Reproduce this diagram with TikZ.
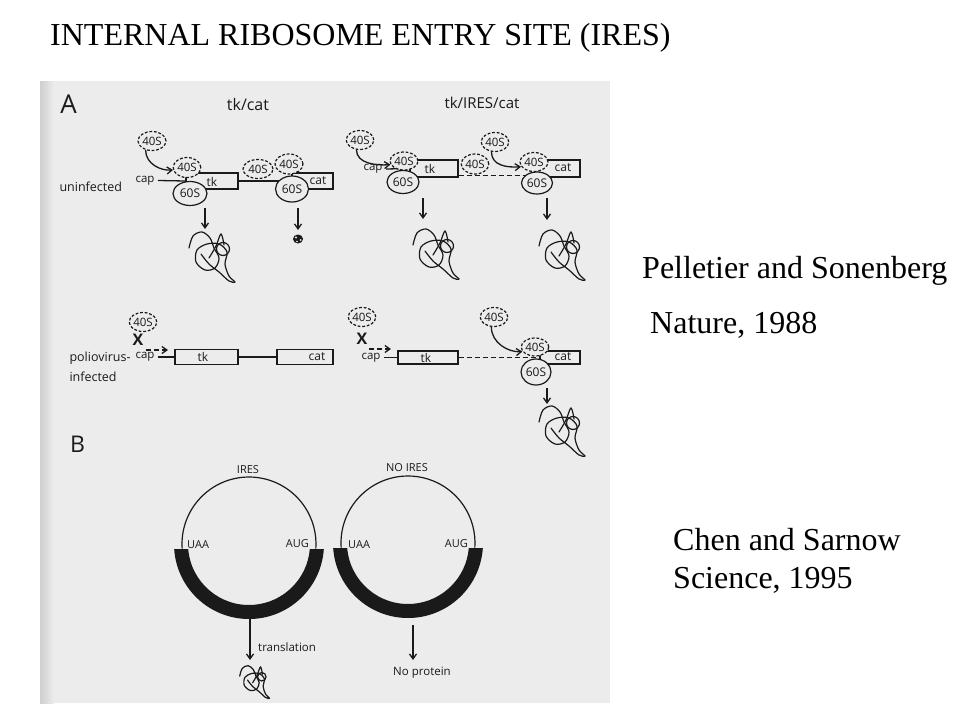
\documentclass[tikz,border=0pt]{standalone}
\usepackage{fontspec}
\setmainfont{Liberation Serif}
\newfontfamily\figsans{Open Sans}
\usetikzlibrary{shapes.geometric,arrows.meta}
\definecolor{scan}{HTML}{ECECEC}
\definecolor{scanedge}{HTML}{CFCFCF}
\definecolor{ink}{HTML}{1A1A1A}
\tikzset{
  sf/.style={font=\figsans\fontsize{#1}{#1}\selectfont, text=ink},
  ln/.style={draw=ink, line width=1.3pt},
  s40/.style={ellipse, draw=ink, line width=1.2pt, dash pattern=on 2.8pt off 1.8pt, fill=scan, inner sep=0pt, minimum width=28pt, minimum height=19pt, sf=11.5},
  s60/.style={ellipse, draw=ink, line width=1.2pt, fill=scan, inner sep=0pt, minimum width=33pt, minimum height=24pt, sf=12},
  gene/.style={rectangle, draw=ink, line width=1.3pt, fill=scan, inner sep=0pt},
  arr/.style={draw=ink, line width=1.3pt, -{Straight Barb[length=5pt,width=7pt]}},
  mdash/.style={draw=ink, line width=1.3pt, dash pattern=on 5pt off 3pt},
  slide/.style={font=\fontsize{32}{38}\selectfont, anchor=base west, inner sep=0pt},
  protein/.pic={
    \draw[ink, line width=1.2pt, line join=round, line cap=round]
      plot[smooth, tension=0.55] coordinates {(-22,-6) (-18,-18) (-9,-22) (-1,-16) (3,-6) (8,4) (4,14) (-6,16) (-15,8) (-14,-4) (-4,-10) (8,-10) (16,-2) (14,10) (18,22) (24,28) (18,27) (8,18) (-2,10) (-10,0)};
    \draw[ink, line width=1.2pt, line cap=round]
      plot[smooth, tension=0.6] coordinates {(-2,4) (5,-8) (10,-20) (13,-9)};
    \draw[ink, line width=1.2pt] (12,-5) circle (6.5);}
}
\begin{document}
\begin{tikzpicture}[x=1pt, y=-1pt]
\useasboundingbox (0,0) rectangle (960,720);
\fill[white] (0,0) rectangle (960,720);
% scanned figure background
\fill[scan] (40,81) rectangle (610,703);
\shade[left color=scanedge, right color=scan] (40,81) rectangle (54,703);

% slide texts
\node[slide] (title) at (50,45) {INTERNAL RIBOSOME ENTRY SITE (IRES)};
\node[slide] (cit1) at (642,278) {Pelletier and Sonenberg};
\node[slide] (cit2) at (650,333) {Nature, 1988};
\node[slide] (cit3) at (673,550) {Chen and Sarnow};
\node[slide] (cit4) at (673,588) {Science, 1995};

% ---------------- Panel A ----------------
\node[sf=26] (labA) at (68.5,104) {A};
\node[sf=16] (hd1) at (248,104) {tk/cat};
\node[sf=15] (hd2) at (482,103) {tk/IRES/cat};
\node[sf=12.5, anchor=west] (uninf) at (56,187) {uninfected};
\node[sf=12.5, anchor=west, align=left, font=\figsans\fontsize{12.5}{20}\selectfont] (polio) at (66,367) {poliovirus-\\infected};

% row 1, tk/cat
\node[sf=11.5] (cap1) at (145,180.5) {cap};
\node[gene, minimum width=52pt, minimum height=16pt] (tk1) at (212,181) {};
\node[gene, minimum width=41pt, minimum height=16pt] (cat1) at (312.5,181) {};
\draw[ln] (cap1.east) -- (tk1.west);
\draw[ln] (tk1.east) -- (cat1.west);
\node[sf=12] (tk1t) at (212,182) {tk};
\node[sf=12] (cat1t) at (318,180.5) {cat};
\node[s60, minimum width=34pt, minimum height=24pt] (r1a60) at (190,193.5) {60S};
\node[s40, minimum width=27pt, minimum height=20pt] (r1a40) at (187,167.5) {40S};
\node[s40] (r1top40) at (152,141) {40S};
\node[s40, minimum width=30pt] (r1i40) at (258,169) {40S};
\node[s60, minimum height=26pt] (r1c60) at (292,189) {60S};
\node[s40, minimum width=28pt, minimum height=20pt] (r1c40) at (289,164) {40S};
\draw[arr] (r1top40.235) .. controls +(0,14) and +(-12,1) .. (r1a40.190);
\coordinate (r1d1s) at (205,208); \coordinate (r1d1e) at (205,229);
\coordinate (r1d2s) at (298,208); \coordinate (r1d2e) at (298,230);
\draw[arr] (r1d1s) -- (r1d1e);
\draw[arr] (r1d2s) -- (r1d2e);
\pic at (211,254) {protein};
\fill[ink] (298,239) ellipse (5pt and 4.5pt);
\fill[scan] (296,237.5) circle (1.1pt) (300.5,240) circle (1pt) (297,241.5) circle (0.8pt);

% row 1, tk/IRES/cat
\node[sf=11.5] (cap2) at (373,169) {cap};
\node[gene, minimum width=48pt, minimum height=17pt] (tk2) at (434,168.5) {};
\node[gene, minimum width=43pt, minimum height=17pt] (cat2) at (558.5,168.5) {};
\draw[ln] (cap2.east) -- (tk2.west);
\draw[mdash] ([yshift=2pt]tk2.south east) -- ([yshift=2pt]cat2.south west);
\node[sf=12] (tk2t) at (430,169) {tk};
\node[sf=12] (cat2t) at (563,168) {cat};
\node[s60, minimum width=32pt, minimum height=23pt] (r2a60) at (403,182) {60S};
\node[s40, minimum width=28pt, minimum height=18pt] (r2a40) at (404,161) {40S};
\node[s40, minimum width=26pt] (r2top40) at (360,140) {40S};
\node[s40, minimum width=26pt, minimum height=20pt] (r2i40) at (475,164) {40S};
\node[s40, minimum width=26pt] (r2top40b) at (495,142) {40S};
\node[s60, minimum width=31pt, minimum height=22pt] (r2c60) at (537,183) {60S};
\node[s40] (r2c40) at (534,162) {40S};
\draw[arr] (r2top40.250) .. controls +(0,14) and +(-14,1) .. (r2a40.195);
\draw[arr] (r2top40b.250) .. controls +(0,14) and +(-14,1) .. (r2c40.200);
\coordinate (r2d1s) at (423,198); \coordinate (r2d1e) at (423,219);
\coordinate (r2d2s) at (547,198); \coordinate (r2d2e) at (547,220);
\draw[arr] (r2d1s) -- (r2d1e);
\draw[arr] (r2d2s) -- (r2d2e);
\pic at (435,251) {protein};
\pic at (561,252) {protein};

% row 2, tk/cat poliovirus
\node[s40, minimum width=26pt] (p1top40) at (143,322) {40S};
\node[font=\figsans\bfseries\fontsize{16}{16}\selectfont, text=ink] (x1) at (138,340) {X};
\coordinate (p1as) at (146,350); \coordinate (p1ae) at (168,350);
\draw[arr, dash pattern=on 5pt off 3pt] (p1as) -- (p1ae);
\node[sf=11.5] (cap3) at (145,357) {cap};
\node[gene, minimum width=63pt, minimum height=15pt] (tk3) at (206.5,357) {};
\node[gene, minimum width=56pt, minimum height=15pt] (cat3) at (305,357) {};
\draw[ln] (cap3.east) -- (tk3.west);
\draw[ln] (tk3.east) -- (cat3.west);
\node[sf=12] (tk3t) at (203,357) {tk};
\node[sf=12] (cat3t) at (317,357) {cat};

% row 2, tk/IRES/cat poliovirus
\node[s40, minimum width=25pt] (p2top40) at (362,317) {40S};
\node[font=\figsans\bfseries\fontsize{16}{16}\selectfont, text=ink] (x2) at (362,339) {X};
\coordinate (p2as) at (369,349); \coordinate (p2ae) at (391,349);
\draw[arr, dash pattern=on 5pt off 3pt] (p2as) -- (p2ae);
\node[sf=11.5] (cap4) at (371,357.5) {cap};
\node[gene, minimum width=60pt, minimum height=13pt] (tk4) at (428,357.5) {};
\node[gene, minimum width=40pt, minimum height=13pt] (cat4) at (560,357.5) {};
\draw[ln] (cap4.east) -- (tk4.west);
\draw[mdash] (tk4.east) -- (cat4.west);
\node[sf=12] (tk4t) at (426,358) {tk};
\node[sf=12] (cat4t) at (563,357) {cat};
\node[s60, minimum width=30pt, minimum height=26pt] (p2c60) at (536,372) {60S};
\node[s40, minimum width=25pt, minimum height=18pt] (p2c40) at (535,347) {40S};
\node[s40, minimum width=25pt] (p2top40b) at (494,317) {40S};
\draw[arr] (p2top40b.255) .. controls +(0,16) and +(-14,1) .. (p2c40.200);
\coordinate (p2ds) at (547,388); \coordinate (p2de) at (547,404);
\draw[arr] (p2ds) -- (p2de);
\pic at (561,428) {protein};

% ---------------- Panel B ----------------
\node[sf=23] (labB) at (77.5,444) {B};
% circle with IRES
\coordinate (c1) at (249,544);
\draw[ink, line width=1.2pt] ([shift={(176:67)}]c1) arc[start angle=176, end angle=364, radius=67];
\fill[ink] ([shift={(4:75)}]c1) arc[start angle=4, end angle=176, radius=75]
   -- ([shift={(175.3:61)}]c1) arc[start angle=175.3, end angle=4.7, radius=61] -- cycle;
\node[sf=11] (ires) at (248,470) {IRES};
\node[sf=11, anchor=base west, inner sep=0pt] (uaa1) at (187,548) {UAA};
\node[sf=11, anchor=base east, inner sep=0pt] (aug1) at (309,547) {AUG};
\coordinate (b1s) at (250,619); \coordinate (b1e) at (250,660);
\draw[arr] (b1s) -- (b1e);
\node[sf=11.5, anchor=west, inner sep=0pt] (transl) at (258,647) {translation};
\pic[scale=0.65] at (254,680) {protein};

% circle without IRES
\coordinate (c2) at (408,543);
\draw[ink, line width=1.2pt] ([shift={(176:67)}]c2) arc[start angle=176, end angle=364, radius=67];
\fill[ink] ([shift={(4:75)}]c2) arc[start angle=4, end angle=176, radius=75]
   -- ([shift={(175.3:61)}]c2) arc[start angle=175.3, end angle=4.7, radius=61] -- cycle;
\node[sf=11] (noires) at (407,468) {NO IRES};
\node[sf=11, anchor=base west, inner sep=0pt] (uaa2) at (348,548) {UAA};
\node[sf=11, anchor=base east, inner sep=0pt] (aug2) at (468,547) {AUG};
\coordinate (b2s) at (413,625); \coordinate (b2e) at (413,660);
\draw[arr] (b2s) -- (b2e);
\node[sf=11.5] (noprot) at (422,673) {No protein};
\end{tikzpicture}
\end{document}
